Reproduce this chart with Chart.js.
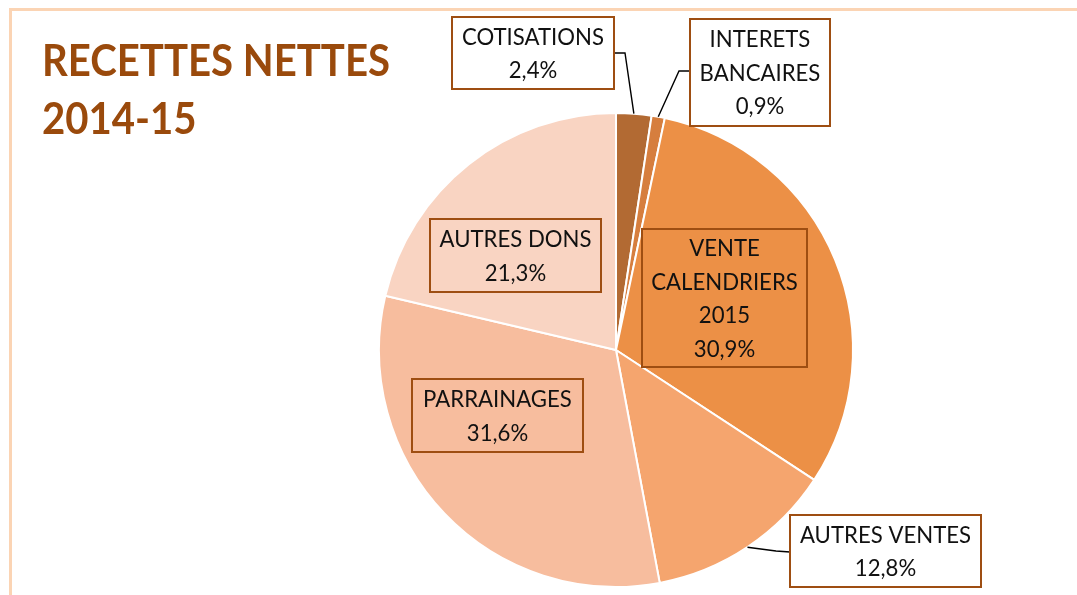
<!DOCTYPE html>
<html>
<head>
<meta charset="utf-8">
<script src="https://cdn.jsdelivr.net/npm/chart.js@4.4.1/dist/chart.umd.min.js"></script>
<style>
  html, body { margin: 0; padding: 0; background: #fff; }
  #wrap { position: relative; width: 1077px; height: 595px; overflow: hidden; }
  #pie { position: absolute; left: 0; top: 0; }
</style>
</head>
<body>
<div id="wrap"><canvas id="pie" width="1077" height="595"></canvas></div>
<script>
// ── Data ───────────────────────────────────────────────────────────────────
const titleLines  = ['RECETTES NETTES', '2014-15'];
const categories  = ['COTISATIONS', 'INTERETS BANCAIRES', 'VENTE CALENDRIERS 2015', 'AUTRES VENTES', 'PARRAINAGES', 'AUTRES DONS'];
const labelLines  = [['COTISATIONS'], ['INTERETS', 'BANCAIRES'], ['VENTE', 'CALENDRIERS', '2015'], ['AUTRES VENTES'], ['PARRAINAGES'], ['AUTRES DONS']];
const shares      = [2.4, 0.9, 30.9, 12.8, 31.6, 21.3];

// ── Style ──────────────────────────────────────────────────────────────────
const sliceColors = ['#B26A33', '#D67E3E', '#EC9046', '#F5A56E', '#F7BD9E', '#F9D4C2'];
const BOX_BORDER  = '#9E4E12';
const TITLE_COLOR = '#9A4A0C';
const TEXT_COLOR  = '#111111';
const FONT        = 'Lato, "Open Sans", sans-serif';

// label boxes: centre, size, white fill or not, leader start + elbow
const boxes = [
  { cx: 533,   cy: 53,    w: 162, h: 72,  fill: '#fff', from: [614, 53],  elbow: [625, 53] },
  { cx: 760,   cy: 72.5,  w: 140, h: 107, fill: '#fff', from: [690, 71],  elbow: [679, 71] },
  { cx: 724.5, cy: 298,   w: 165, h: 138, fill: null },
  { cx: 885.5, cy: 551,   w: 191, h: 72,  fill: '#fff', from: [790, 552], elbow: [776, 551] },
  { cx: 497.5, cy: 415.5, w: 171, h: 73,  fill: null },
  { cx: 515.5, cy: 255.5, w: 171, h: 73,  fill: null },
];
const LINE_GAP = 33.5;

function fmtPct(v) { return v.toFixed(1).replace('.', ',') + '%'; }

// draw text with a horizontal squeeze so that Lato looks as narrow as the original
function squeezed(ctx, text, x, y, sx) {
  ctx.save();
  ctx.translate(x, y);
  ctx.scale(sx, 1);
  ctx.fillText(text, 0, 0);
  ctx.restore();
}

// ── Decorations, title and labels ──────────────────────────────────────────
const decorPlugin = {
  id: 'decor',
  beforeDraw(chart) {
    const ctx = chart.ctx;
    ctx.save();
    // frame (top + left edge)
    ctx.fillStyle = '#FBD4B4';
    ctx.fillRect(9, 8, chart.width - 9, 3);
    ctx.fillRect(9, 8, 3, chart.height - 8);
    // title
    ctx.font = `bold 44px ${FONT}`;
    const sx = 348 / ctx.measureText(titleLines[0]).width;
    ctx.fillStyle = TITLE_COLOR;
    ctx.textAlign = 'left';
    ctx.textBaseline = 'alphabetic';
    squeezed(ctx, titleLines[0], 42, 76, sx);
    squeezed(ctx, titleLines[1], 42, 134, sx);
    ctx.restore();
  },
  afterDatasetsDraw(chart) {
    const ctx = chart.ctx;
    const arcs = chart.getDatasetMeta(0).data;
    ctx.save();
    ctx.font = `normal 23px ${FONT}`;
    const sx = 152 / ctx.measureText('AUTRES DONS').width;
    arcs.forEach((arc, i) => {
      const b = boxes[i];
      const p = arc.getProps(['x', 'y', 'startAngle', 'endAngle', 'outerRadius'], true);
      const mid = (p.startAngle + p.endAngle) / 2;
      const ax = p.x + Math.cos(mid) * p.outerRadius;
      const ay = p.y + Math.sin(mid) * p.outerRadius;

      // leader line
      if (b.from) {
        ctx.strokeStyle = '#000';
        ctx.lineWidth = 1.4;
        ctx.beginPath();
        ctx.moveTo(b.from[0], b.from[1]);
        ctx.lineTo(b.elbow[0], b.elbow[1]);
        ctx.lineTo(ax, ay);
        ctx.stroke();
      }

      // box
      const x0 = b.cx - b.w / 2, y0 = b.cy - b.h / 2;
      if (b.fill) {
        ctx.fillStyle = b.fill;
        ctx.fillRect(x0, y0, b.w, b.h);
      }
      ctx.strokeStyle = BOX_BORDER;
      ctx.lineWidth = 2;
      ctx.strokeRect(x0, y0, b.w, b.h);

      // text
      const lines = labelLines[i].concat([fmtPct(shares[i])]);
      ctx.font = `normal 23px ${FONT}`;
      ctx.fillStyle = TEXT_COLOR;
      ctx.textAlign = 'center';
      ctx.textBaseline = 'middle';
      const top = b.cy - (lines.length - 1) * LINE_GAP / 2;
      lines.forEach((t, k) => squeezed(ctx, t, b.cx, top + k * LINE_GAP + 1, sx));
    });
    ctx.restore();
  }
};

// ── Chart ──────────────────────────────────────────────────────────────────
new Chart(document.getElementById('pie').getContext('2d'), {
  type: 'pie',
  data: {
    labels: categories,
    datasets: [{
      data: shares,
      backgroundColor: sliceColors,
      borderColor: '#ffffff',
      borderWidth: 2,
    }]
  },
  options: {
    responsive: false,
    animation: false,
    layout: { padding: { left: 378, right: 223, top: 111, bottom: 6 } },
    plugins: { legend: { display: false }, tooltip: { enabled: false } },
  },
  plugins: [decorPlugin],
});
</script>
</body>
</html>
